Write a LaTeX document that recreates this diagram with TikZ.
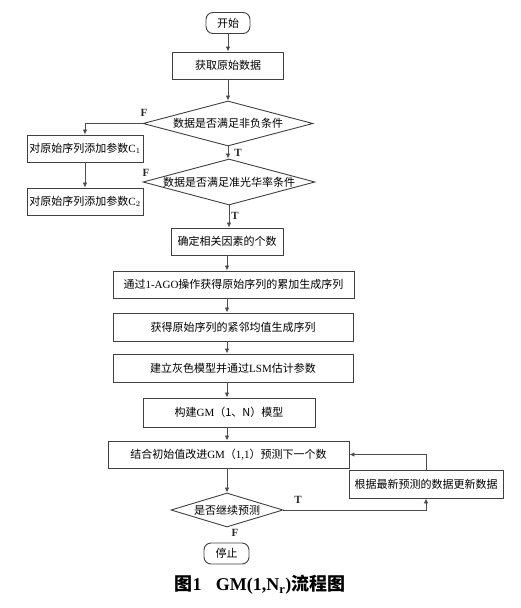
\documentclass[tikz,border=0pt]{standalone}
\usepackage{fontspec}
\setmainfont{Liberation Serif}
\newfontfamily\cjk{Noto Sans CJK SC}
\usetikzlibrary{shapes.geometric,arrows.meta}
\begin{document}
\begin{tikzpicture}[x=1pt,y=-1pt,
  every node/.style={font=\fontsize{11}{13}\selectfont},
  box/.style={draw=black!75,line width=0.9pt,rectangle,inner sep=0pt,minimum height=27pt},
  term/.style={draw=black!75,line width=0.9pt,rectangle,rounded corners=7pt,inner sep=0pt,minimum width=44pt,minimum height=21pt},
  dec/.style={draw=black!75,line width=0.9pt,diamond,inner sep=0pt},
  arr/.style={draw=black!70,line width=0.8pt,-{Latex[length=5pt,width=4.5pt]}},
  lab/.style={font=\fontsize{11}{12}\selectfont\bfseries,text=black!85,inner sep=0pt}]
\useasboundingbox (0,0) rectangle (520,608);
\node[term] (start) at (228,23) {\cjk 开始};
\node[box,minimum width=111pt] (b1) at (228,65.5) {\cjk 获取原始数据};
\node[dec,aspect=3.8,minimum width=170pt,minimum height=45pt] (d1) at (228,123.5) {\cjk 数据是否满足非负条件};
\node[box,minimum width=116pt] (c1) at (85,148.5) {{\cjk 对原始序列添加参数}C$_1$};
\node[dec,aspect=3.7,minimum width=172pt,minimum height=46pt] (d2) at (229,182) {\cjk 数据是否满足准光华率条件};
\node[box,minimum width=116pt] (c2) at (85,201.5) {{\cjk 对原始序列添加参数}C$_2$};
\node[box,minimum width=112pt] (b3) at (227,241.5) {\cjk 确定相关因素的个数};
\node[box,minimum width=241pt] (b4) at (233.5,284.5) {{\cjk 通过}1-AGO{\cjk 操作获得原始序列的累加生成序列}};
\node[box,minimum width=240pt,minimum height=28pt] (b5) at (233,327) {\cjk 获得原始序列的紧邻均值生成序列};
\node[box,minimum width=240pt,minimum height=28pt] (b6) at (233,368) {{\cjk 建立灰色模型并通过}LSM{\cjk 估计参数}};
\node[box,minimum width=172pt,minimum height=29pt] (b7) at (229,412.5) {{\cjk 构建}GM{\cjk （1、N）模型}};
\node[box,minimum width=241pt] (b8) at (228.5,454.5) {{\cjk 结合初始值改进}GM{\cjk （}1,1{\cjk ）预测下一个数}};
\node[box,minimum width=154pt,minimum height=28pt] (b9) at (426,484) {\cjk 根据最新预测的数据更新数据};
\node[dec,aspect=3.3,minimum width=112pt,minimum height=34pt] (d3) at (227,510) {\cjk 是否继续预测};
\node[term,minimum width=45pt] (stop) at (226.5,553.5) {\cjk 停止};
\node[font=\fontsize{18}{21}\selectfont\bfseries,inner sep=0pt] (cap) at (260,585) {{\cjk 图}1\hspace{0.8em}GM(1,N$_{\mathbf{r}}$){\cjk 流程图}};
% connectors
\draw[arr] (start.south) -- (start.south |- b1.north);
\draw[arr] (b1.south) -- (b1.south |- d1.north);
\draw[arr] (d1.west) -| (c1.north);
\draw[arr] (c1.south) -- (c1.south |- c2.north);
\draw[arr] (d1.south) -- (d1.south |- d2.north);
\draw[arr] (d2.south) -- (d2.south |- b3.north);
\draw[arr] (b3.south) -- (b3.south |- b4.north);
\draw[arr] (b3.south |- b4.south) -- (b3.south |- b5.north);
\draw[arr] (b3.south |- b5.south) -- (b3.south |- b6.north);
\draw[arr] (b3.south |- b6.south) -- (b3.south |- b7.north);
\draw[arr] (b3.south |- b7.south) -- (b3.south |- b8.north);
\draw[arr] (b3.south |- b8.south) -- (b3.south |- d3.north);
\draw[arr] (d3.east) -| (b9.south);
\draw[arr] (b9.north) |- (b8.east);
% labels
\node[lab] (f1) at (144,113) {F};
\node[lab] (t1) at (238,153) {T};
\node[lab] (f2) at (146,173) {F};
\node[lab] (t2) at (235,216) {T};
\node[lab] (t3) at (298,500) {T};
\node[lab] (f3) at (235,533) {F};
\end{tikzpicture}
\end{document}
